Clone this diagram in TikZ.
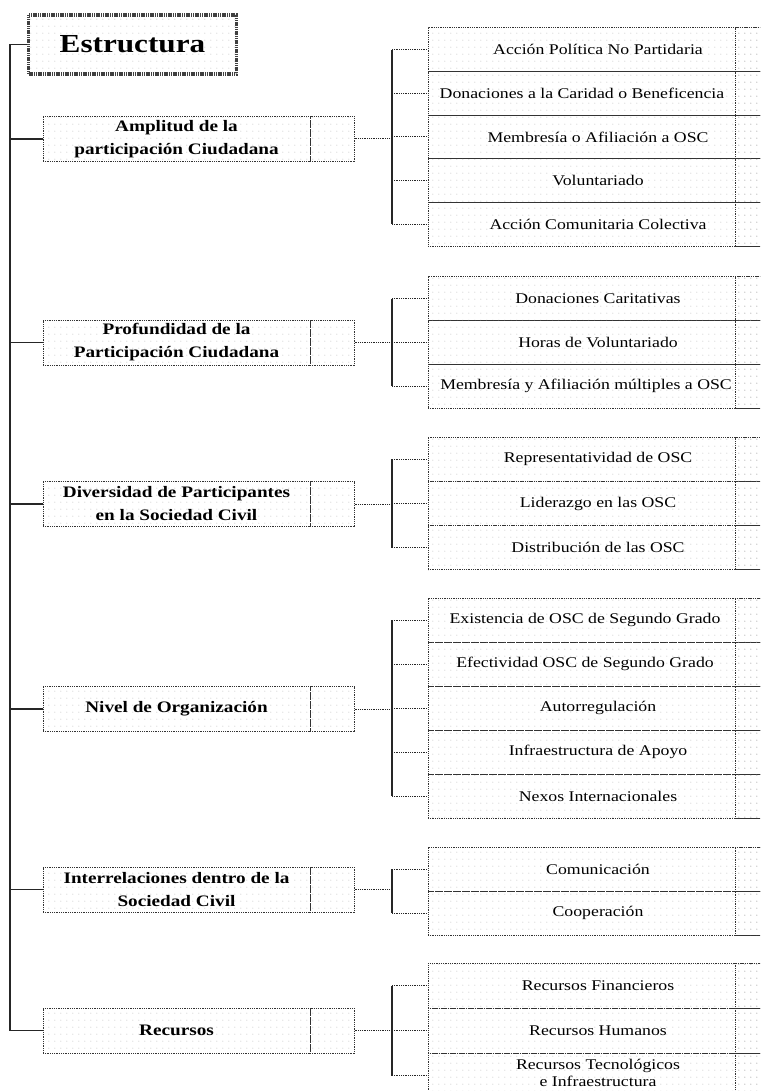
\documentclass[tikz,border=0pt]{standalone}
\usepackage{fontspec}
\setmainfont{Liberation Serif}[FakeStretch=1.2]
\usetikzlibrary{patterns.meta}
\tikzdeclarepattern{
  name=gdots,
  bounding box={(0pt,0pt) and (6pt,7pt)},
  tile size={(6pt,7pt)},
  code={\pgfpathcircle{\pgfqpoint{1pt}{1pt}}{0.5pt}\pgfusepath{fill}}
}
\newcommand\tsh[2]{\makebox[0pt]{\hspace*{#1}\hspace*{#1}#2}}
\tikzset{
  box/.style={draw=black!80, line width=1pt, dash pattern=on 1pt off 0.8pt,
    pattern=gdots, pattern color=black!38, inner sep=0pt},
  rootbox/.style={box, draw=black!75, line width=3.5pt, dash pattern=on 1.2pt off 0.6pt,
    minimum width=208pt, minimum height=59pt, font=\fontsize{26}{30}\selectfont\bfseries},
  cat/.style={box, minimum width=267pt, minimum height=45pt,
    font=\fontsize{16}{23}\selectfont\bfseries, align=center},
  catcell/.style={box, minimum width=44pt, minimum height=45pt},
  kid/.style={box, minimum width=340pt, font=\fontsize{14.8}{21}\selectfont, align=center},
  cell/.style={box, minimum width=55pt},
  link/.style={draw=black!85, line width=1pt, dash pattern=on 1pt off 0.8pt},
  rail/.style={draw=black!85, line width=1.2pt},
}
\begin{document}
\begin{tikzpicture}[x=1pt,y=-1pt]
\useasboundingbox (0,0) rectangle (760,1091);
\clip (0,0) rectangle (760,1091);
\fill[white] (0,0) rectangle (760,1091);

% root
\node[rootbox] (root) at (132.5,44.5) {Estructura};

% categories
\node[cat] (c1) at (176.5,139) {Amplitud de la\\participación Ciudadana};
\node[catcell] (c1r) at (332,139) {};
\node[cat] (c2) at (176.5,342.5) {Profundidad de la\\Participación Ciudadana};
\node[catcell] (c2r) at (332,342.5) {};
\node[cat] (c3) at (176.5,504) {Diversidad de Participantes\\en la Sociedad Civil};
\node[catcell] (c3r) at (332,504) {};
\node[cat] (c4) at (176.5,709) {Nivel de Organización};
\node[catcell] (c4r) at (332,709) {};
\node[cat] (c5) at (176.5,889.5) {Interrelaciones dentro de la\\Sociedad Civil};
\node[catcell] (c5r) at (332,889.5) {};
\node[cat] (c6) at (176.5,1030.5) {Recursos};
\node[catcell] (c6r) at (332,1030.5) {};

% group 1
\begin{scope}[every node/.append style={minimum height=43.6pt}]
\node[kid] (k11) at (598,49.8) {Acción Política No Partidaria};
\node[kid] (k12) at (598,93.4) {\tsh{-16pt}{Donaciones a la Caridad o Beneficencia}};
\node[kid] (k13) at (598,137) {Membresía o Afiliación a OSC};
\node[kid] (k14) at (598,180.6) {Voluntariado};
\node[kid] (k15) at (598,224.2) {Acción Comunitaria Colectiva};
\foreach \k/\y in {11/49.8,12/93.4,13/137,14/180.6,15/224.2}
  \node[cell] (r\k) at (762.5,\y) {};
\end{scope}

% group 2
\begin{scope}[every node/.append style={minimum height=43.7pt}]
\node[kid] (k21) at (598,298.8) {Donaciones Caritativas};
\node[kid] (k22) at (598,342.5) {Horas de Voluntariado};
\node[kid] (k23) at (598,386.2) {\tsh{-12pt}{Membresía y Afiliación múltiples a OSC}};
\foreach \k/\y in {21/298.8,22/342.5,23/386.2}
  \node[cell] (r\k) at (762.5,\y) {};
\end{scope}

% group 3
\begin{scope}[every node/.append style={minimum height=44.3pt}]
\node[kid] (k31) at (598,459.2) {Representatividad de OSC};
\node[kid] (k32) at (598,503.5) {Liderazgo en las OSC};
\node[kid] (k33) at (598,547.8) {Distribución de las OSC};
\foreach \k/\y in {31/459.2,32/503.5,33/547.8}
  \node[cell] (r\k) at (762.5,\y) {};
\end{scope}

% group 4
\begin{scope}[every node/.append style={minimum height=44pt}]
\node[kid] (k41) at (598,620) {\tsh{-13pt}{Existencia de OSC de Segundo Grado}};
\node[kid] (k42) at (598,664) {\tsh{-13pt}{Efectividad OSC de Segundo Grado}};
\node[kid] (k43) at (598,708) {Autorregulación};
\node[kid] (k44) at (598,752) {Infraestructura de Apoyo};
\node[kid] (k45) at (598,796) {Nexos Internacionales};
\foreach \k/\y in {41/620,42/664,43/708,44/752,45/796}
  \node[cell] (r\k) at (762.5,\y) {};
\end{scope}

% group 5
\begin{scope}[every node/.append style={minimum height=44pt}]
\node[kid] (k51) at (598,869) {Comunicación};
\node[kid] (k52) at (598,913) {Cooperación};
\foreach \k/\y in {51/869,52/913}
  \node[cell] (r\k) at (762.5,\y) {};
\end{scope}

% group 6
\begin{scope}[every node/.append style={minimum height=45pt}]
\node[kid] (k61) at (598,985.5) {Recursos Financieros};
\node[kid] (k62) at (598,1030.5) {Recursos Humanos};
\node[kid, font=\fontsize{14.8}{17.5}\selectfont, text depth=5pt] (k63) at (598,1075.5)
  {Recursos Tecnológicos\\e Infraestructura};
\foreach \k/\y in {61/985.5,62/1030.5,63/1075.5}
  \node[cell] (r\k) at (762.5,\y) {};
\end{scope}

% trunk
\coordinate (trunk) at (10,44.5);
\draw[rail, line width=1.5pt] (root.west) -- (trunk) -- (trunk |- c6.west) -- (c6.west);
\foreach \c in {c1,c2,c3,c4,c5}
  \draw[rail] (trunk |- \c.west) -- (\c.west);

% brackets
\coordinate (bx) at (392,0);
\foreach \g/\first/\last/\kids in {
   1/11/15/{11,12,13,14,15},
   2/21/23/{21,22,23},
   3/31/33/{31,32,33},
   4/41/45/{41,42,43,44,45},
   5/51/52/{51,52},
   6/61/63/{61,62,63}}{
  \draw[link] (c\g r.east) -- (bx |- c\g r.east);
  \draw[rail] (bx |- k\first.west) -- (bx |- k\last.west);
  \foreach \k in \kids
    \draw[link] (bx |- k\k.west) -- (k\k.west);
}
\end{tikzpicture}
\end{document}
